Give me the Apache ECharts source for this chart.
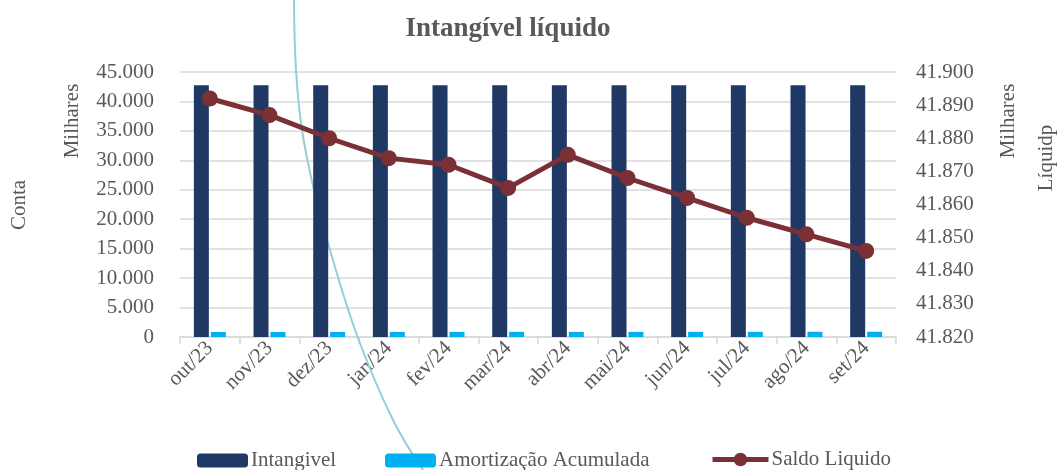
<!DOCTYPE html>
<html>
<head>
<meta charset="utf-8">
<script src="https://cdn.jsdelivr.net/npm/echarts@6/dist/echarts.min.js"></script>
<style>
  html, body { margin: 0; padding: 0; background: #fff; }
  #chart { width: 1058px; height: 470px; }
</style>
</head>
<body>
<div id="chart"></div>
<script>
// dados (em milhares)
var meses = ['out/23', 'nov/23', 'dez/23', 'jan/24', 'fev/24', 'mar/24', 'abr/24', 'mai/24', 'jun/24', 'jul/24', 'ago/24', 'set/24'];
var intangivel = [42740, 42740, 42740, 42740, 42740, 42740, 42740, 42740, 42740, 42740, 42740, 42740];
var amortizacao = [850, 855, 860, 866, 870, 875, 866, 872, 878, 884, 889, 894];
var saldoLiquido = [41892, 41887, 41880, 41874, 41872, 41865, 41875, 41868, 41862, 41856, 41851, 41846];

var fonte = '"Liberation Serif", "DejaVu Serif", serif';
var cinza = '#595959';
var tam = 21;

// separador de milhar com ponto
function fmt(v) {
	return String(v).replace(/\B(?=(\d{3})+(?!\d))/g, '.');
}

var chart = echarts.init(document.getElementById('chart'));

var legendaTexto = { fontFamily: fonte, fontSize: 21, color: cinza, padding: [0, 0, 0, -2] };

var option = {
	animation: false,
	backgroundColor: '#fff',
	textStyle: { fontFamily: fonte },
	title: {
		text: 'Intangível líquido',
		left: 503,
		top: 11,
		textAlign: 'center',
		textStyle: { fontFamily: fonte, fontSize: 27, fontWeight: 'bold', color: cinza }
	},
	legend: [
		{ data: ['Intangivel'], left: 192, top: 445, itemWidth: 51, itemHeight: 14, textStyle: legendaTexto },
		{ data: ['Amortização Acumulada'], left: 380, top: 445, itemWidth: 51, itemHeight: 14, textStyle: legendaTexto },
		{ data: ['Saldo Liquido'], left: 705, top: 444, itemWidth: 56, itemHeight: 17,
			lineStyle: { width: 5 }, textStyle: legendaTexto }
	],
	grid: { left: 180, right: 162, top: 72, bottom: 133 },
	xAxis: {
		type: 'category',
		data: meses,
		axisLine: { lineStyle: { color: '#d9d9d9', width: 1.5 } },
		axisTick: { show: true, length: 7, lineStyle: { color: '#d9d9d9', width: 1.5 } },
		axisLabel: { rotate: 45, margin: 8, fontFamily: fonte, fontSize: tam, color: cinza }
	},
	yAxis: [
		{
			type: 'value', min: 0, max: 45000, interval: 5000,
			axisLine: { show: false }, axisTick: { show: false },
			splitLine: { lineStyle: { color: '#d9d9d9', width: 1.5 } },
			axisLabel: { margin: 26, fontFamily: fonte, fontSize: tam, color: cinza, formatter: fmt }
		},
		{
			type: 'value', min: 41820, max: 41900, interval: 10,
			axisLine: { show: false }, axisTick: { show: false },
			splitLine: { show: false },
			axisLabel: { margin: 20, fontFamily: fonte, fontSize: tam, color: cinza, formatter: fmt }
		}
	],
	series: [
		{
			name: 'Intangivel', type: 'bar', data: intangivel,
			barWidth: 15, barGap: '13%',
			itemStyle: { color: '#1f3864' }
		},
		{
			name: 'Amortização Acumulada', type: 'bar', data: amortizacao,
			barWidth: 15,
			itemStyle: { color: '#00b0f0' }
		},
		{
			name: 'Saldo Liquido', type: 'line', yAxisIndex: 1, data: saldoLiquido,
			symbol: 'circle', symbolSize: 16,
			lineStyle: { color: '#7b3035', width: 5 },
			itemStyle: { color: '#7b3035' },
			z: 5
		}
	],
	graphic: [
		// rótulos dos eixos
		{ type: 'text', x: 72, y: 121, rotation: Math.PI / 2,
			style: { text: 'Milhares', fontFamily: fonte, fontSize: tam, fill: cinza, textAlign: 'center', textVerticalAlign: 'middle' } },
		{ type: 'text', x: 19, y: 205, rotation: Math.PI / 2,
			style: { text: 'Conta', fontFamily: fonte, fontSize: tam, fill: cinza, textAlign: 'center', textVerticalAlign: 'middle' } },
		{ type: 'text', x: 1008, y: 121, rotation: Math.PI / 2,
			style: { text: 'Milhares', fontFamily: fonte, fontSize: tam, fill: cinza, textAlign: 'center', textVerticalAlign: 'middle' } },
		{ type: 'text', x: 1046, y: 158, rotation: Math.PI / 2,
			style: { text: 'Líquidp', fontFamily: fonte, fontSize: tam, fill: cinza, textAlign: 'center', textVerticalAlign: 'middle' } },
		// traço azul claro sobreposto
		{ type: 'polyline', z: 1, silent: true,
			shape: { points: [[294, 0], [296, 70], [302, 130], [314, 190], [330, 250], [358, 338], [393, 420], [423, 470]], smooth: 0.4 },
			style: { stroke: '#93cfd9', lineWidth: 2, fill: null } }
	]
};

chart.setOption(option);
</script>
</body>
</html>
